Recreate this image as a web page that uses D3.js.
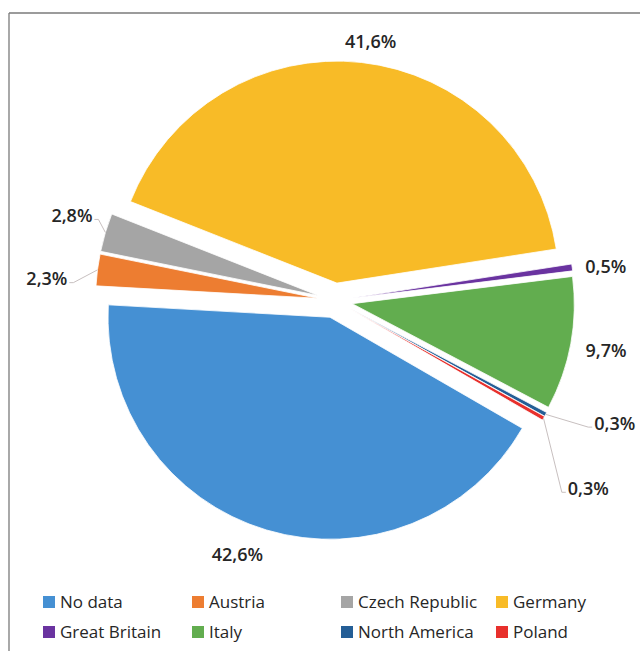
<!DOCTYPE html>
<html>
<head>
<meta charset="utf-8">
<script src="https://cdn.jsdelivr.net/npm/d3@7"></script>
<style>
  html, body { margin: 0; padding: 0; background: #ffffff; }
  svg { display: block; }
</style>
</head>
<body>
<div id="chart"></div>
<script>
// ---- data ----
const categories = ["No data", "Austria", "Czech Republic", "Germany", "Great Britain", "Italy", "North America", "Poland"];
const values = [42.6, 2.3, 2.8, 41.6, 0.5, 9.7, 0.3, 0.3];
const colors = ["#4590d3", "#ed7d31", "#a5a5a5", "#f8bb27", "#6a33a0", "#62ad4f", "#245e96", "#e8302c"];

// ---- layout (not data) ----
const W = 640, H = 651;
const cx = 335, cy = 300.5, R = 222, explode = 17.5;
const startDeg = 120;
// label placement: extra radius beyond R and angular nudge (degrees), per slice
const labelExtra = [33, 49.5, 37, 21.5, 33.5, 36, 66, 76];
const labelTurn = [4.7, -3.2, 1.5, 1.6, 0.8, 0, -5, 7.5];
const withLeader = [false, true, true, false, false, false, true, true];
const legendColX = [43, 192, 341, 496];
const legendRowY = [602, 632];

const fmt = v => v.toFixed(1).replace(".", ",") + "%";
const rad = d => d * Math.PI / 180;

const svg = d3.select("#chart").append("svg")
  .attr("width", W).attr("height", H);

// frame (top and left borders)
svg.append("line").attr("x1", 9).attr("y1", 13).attr("x2", W).attr("y2", 13)
  .attr("stroke", "#7a7a7a").attr("stroke-width", 1.3);
svg.append("line").attr("x1", 9).attr("y1", 13).attr("x2", 9).attr("y2", H)
  .attr("stroke", "#7a7a7a").attr("stroke-width", 1.3);

const pie = d3.pie().sort(null).value(d => d)
  .startAngle(rad(startDeg)).endAngle(rad(startDeg + 360));
const arcs = pie(values);
const arc = d3.arc().innerRadius(0).outerRadius(R);

const g = svg.append("g").attr("transform", `translate(${cx},${cy})`);

arcs.forEach((a, i) => {
  a.mid = (a.startAngle + a.endAngle) / 2;
  a.ox = Math.sin(a.mid) * explode;
  a.oy = -Math.cos(a.mid) * explode;
});

g.selectAll("path.slice").data(arcs).enter().append("path")
  .attr("class", "slice")
  .attr("transform", d => `translate(${d.ox},${d.oy})`)
  .attr("d", arc)
  .attr("fill", (d, i) => colors[i])
  .attr("stroke", "#ffffff")
  .attr("stroke-width", 0.8)
  .attr("stroke-linejoin", "round");

// labels
const labelFont = "'Open Sans', 'DejaVu Sans', sans-serif";
arcs.forEach((a, i) => {
  const ang = a.mid + rad(labelTurn[i]);
  const r = R + labelExtra[i];
  const lx = a.ox + Math.sin(ang) * r;
  const ly = a.oy - Math.cos(ang) * r;
  const t = g.append("text")
    .attr("x", lx).attr("y", ly).attr("dy", "0.36em")
    .attr("text-anchor", "middle")
    .attr("font-family", labelFont)
    .attr("font-size", 18)
    .attr("font-weight", 600)
    .attr("fill", "#262626")
    .text(fmt(values[i]));
  if (withLeader[i]) {
    const w = t.node().getBBox().width;
    const px = a.ox + Math.sin(a.mid) * R;
    const py = a.oy - Math.cos(a.mid) * R;
    const right = lx > px; // label to the right of the slice point
    const ex = right ? lx - w / 2 - 2 : lx + w / 2 + 2;
    const ey = ly + 4;
    const stub = right ? -4 : 4;
    g.insert("polyline", "text")
      .attr("points", [[px, py], [ex + stub, ey], [ex, ey]].map(p => p.join(",")).join(" "))
      .attr("fill", "none")
      .attr("stroke", "#c8c0c0")
      .attr("stroke-width", 1);
  }
});

// legend
const legend = svg.append("g");
categories.forEach((c, i) => {
  const col = i % 4, row = Math.floor(i / 4);
  const x = legendColX[col], y = legendRowY[row];
  legend.append("rect").attr("x", x).attr("y", y - 6)
    .attr("width", 12).attr("height", 12).attr("fill", colors[i]);
  legend.append("text").attr("x", x + 17).attr("y", y).attr("dy", "0.36em")
    .attr("font-family", labelFont).attr("font-size", 17)
    .attr("fill", "#262626").text(c);
});
</script>
</body>
</html>
